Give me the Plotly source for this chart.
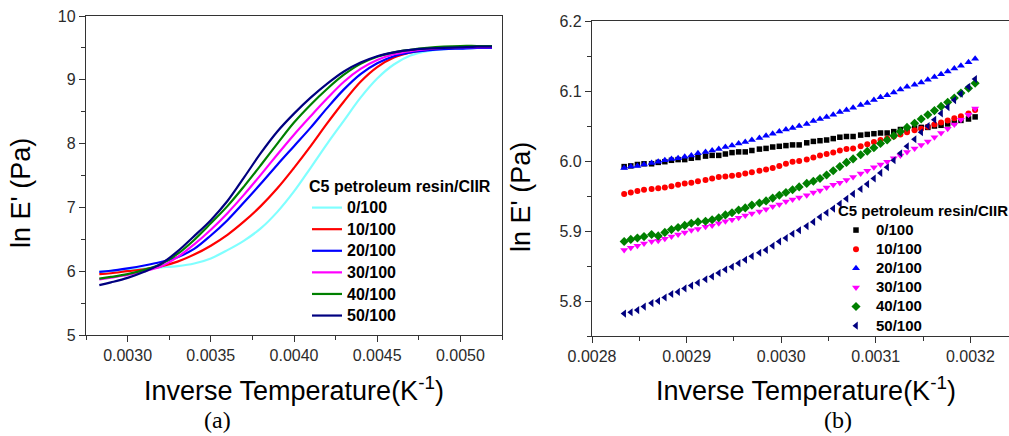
import plotly.graph_objects as go

# ---------------- Panel (a): full temperature range (lines) ----------------
inv_temp_a = [0.00283, 0.0029, 0.0030, 0.0031, 0.0032, 0.0033, 0.0034, 0.0035,
              0.0036, 0.0037, 0.0038, 0.0039, 0.0040, 0.0041, 0.0042, 0.0043,
              0.0044, 0.0045, 0.0046, 0.0047, 0.0048, 0.0049, 0.0050, 0.0051, 0.00519]
lnE_a_0 = [5.99, 6.005, 6.02, 6.04, 6.06, 6.08, 6.12, 6.20, 6.33, 6.48, 6.67, 6.93, 7.25,
           7.62, 8.00, 8.36, 8.72, 9.02, 9.24, 9.38, 9.45, 9.48, 9.49, 9.50, 9.50]
lnE_a_10 = [5.953, 5.968, 6.00, 6.03, 6.075, 6.15, 6.26, 6.40, 6.57, 6.78, 7.02, 7.30, 7.62,
            7.96, 8.32, 8.66, 8.97, 9.20, 9.35, 9.43, 9.47, 9.49, 9.50, 9.50, 9.50]
lnE_a_20 = [5.99, 6.007, 6.045, 6.09, 6.145, 6.22, 6.35, 6.56, 6.80, 7.08, 7.37, 7.67, 7.96,
            8.25, 8.56, 8.85, 9.09, 9.26, 9.37, 9.43, 9.46, 9.48, 9.49, 9.50, 9.50]
lnE_a_30 = [5.873, 5.90, 5.94, 6.00, 6.075, 6.22, 6.42, 6.65, 6.91, 7.20, 7.51, 7.83, 8.14,
            8.43, 8.71, 8.97, 9.17, 9.31, 9.40, 9.45, 9.48, 9.50, 9.51, 9.51, 9.51]
lnE_a_40 = [5.885, 5.91, 5.953, 6.02, 6.11, 6.27, 6.49, 6.75, 7.02, 7.33, 7.66, 8.00, 8.33,
            8.61, 8.86, 9.08, 9.25, 9.36, 9.43, 9.47, 9.50, 9.52, 9.53, 9.53, 9.53]
lnE_a_50 = [5.782, 5.825, 5.895, 5.99, 6.115, 6.31, 6.55, 6.80, 7.10, 7.47, 7.85, 8.19, 8.47,
            8.72, 8.94, 9.13, 9.27, 9.37, 9.43, 9.47, 9.49, 9.50, 9.51, 9.52, 9.52]

# ---------------- Panel (b): zoom on 0.00283-0.00321 (markers) ----------------
inv_temp_b = [0.002834, 0.002841, 0.002848, 0.002855, 0.002863, 0.002870, 0.002877, 0.002884,
              0.002891, 0.002898, 0.002905, 0.002912, 0.002920, 0.002927, 0.002934, 0.002941,
              0.002948, 0.002955, 0.002962, 0.002969, 0.002977, 0.002984, 0.002991, 0.002998,
              0.003005, 0.003012, 0.003019, 0.003027, 0.003034, 0.003041, 0.003048, 0.003055,
              0.003062, 0.003069, 0.003076, 0.003084, 0.003091, 0.003098, 0.003105, 0.003112,
              0.003119, 0.003126, 0.003133, 0.003141, 0.003148, 0.003155, 0.003162, 0.003169,
              0.003176, 0.003183, 0.003190, 0.003198, 0.003205]
lnE_b_0 = [5.992, 5.993, 5.995, 5.996, 5.996, 5.998, 5.999, 6.001, 6.002, 6.002, 6.004, 6.005,
           6.007, 6.008, 6.008, 6.010, 6.012, 6.013, 6.013, 6.015, 6.017, 6.018, 6.020, 6.021,
           6.022, 6.023, 6.023, 6.026, 6.028, 6.029, 6.030, 6.032, 6.034, 6.035, 6.035, 6.037,
           6.038, 6.039, 6.040, 6.040, 6.042, 6.045, 6.046, 6.047, 6.048, 6.048, 6.050, 6.051,
           6.053, 6.055, 6.058, 6.060, 6.063]
lnE_b_10 = [5.953, 5.955, 5.957, 5.959, 5.960, 5.961, 5.962, 5.964, 5.966, 5.968, 5.969, 5.971,
            5.973, 5.975, 5.977, 5.978, 5.979, 5.980, 5.982, 5.984, 5.986, 5.988, 5.990, 5.993,
            5.996, 5.999, 6.000, 6.002, 6.005, 6.008, 6.010, 6.012, 6.015, 6.017, 6.018, 6.021,
            6.024, 6.027, 6.030, 6.032, 6.035, 6.038, 6.041, 6.044, 6.046, 6.049, 6.052, 6.055,
            6.058, 6.061, 6.064, 6.068, 6.073]
lnE_b_20 = [5.990, 5.992, 5.993, 5.995, 5.997, 5.999, 6.001, 6.003, 6.004, 6.006, 6.008, 6.011,
            6.013, 6.015, 6.017, 6.020, 6.022, 6.025, 6.027, 6.030, 6.033, 6.036, 6.039, 6.042,
            6.045, 6.047, 6.050, 6.053, 6.057, 6.060, 6.063, 6.066, 6.070, 6.073, 6.076, 6.080,
            6.083, 6.087, 6.091, 6.094, 6.098, 6.102, 6.106, 6.109, 6.112, 6.116, 6.120, 6.124,
            6.128, 6.132, 6.136, 6.141, 6.146]
lnE_b_30 = [5.873, 5.876, 5.879, 5.882, 5.885, 5.886, 5.889, 5.892, 5.895, 5.898, 5.901, 5.903,
            5.906, 5.908, 5.911, 5.914, 5.916, 5.919, 5.922, 5.925, 5.928, 5.931, 5.935, 5.938,
            5.942, 5.945, 5.948, 5.951, 5.955, 5.958, 5.962, 5.966, 5.969, 5.973, 5.977, 5.982,
            5.986, 5.991, 5.995, 5.999, 6.004, 6.008, 6.013, 6.018, 6.023, 6.028, 6.034, 6.040,
            6.046, 6.052, 6.059, 6.066, 6.075]
lnE_b_40 = [5.885, 5.888, 5.890, 5.892, 5.895, 5.893, 5.898, 5.902, 5.905, 5.908, 5.911, 5.913,
            5.914, 5.916, 5.919, 5.923, 5.926, 5.930, 5.933, 5.937, 5.940, 5.943, 5.947, 5.951,
            5.955, 5.959, 5.963, 5.968, 5.971, 5.975, 5.980, 5.986, 5.992, 5.998, 6.003, 6.009,
            6.014, 6.019, 6.025, 6.030, 6.036, 6.042, 6.048, 6.054, 6.060, 6.066, 6.072, 6.078,
            6.084, 6.090, 6.097, 6.104, 6.111]
lnE_b_50 = [5.782, 5.784, 5.787, 5.792, 5.797, 5.800, 5.805, 5.810, 5.813, 5.818, 5.822, 5.826,
            5.831, 5.835, 5.840, 5.845, 5.849, 5.854, 5.859, 5.864, 5.869, 5.873, 5.879, 5.885,
            5.890, 5.896, 5.901, 5.907, 5.913, 5.920, 5.926, 5.932, 5.939, 5.946, 5.953, 5.960,
            5.967, 5.975, 5.983, 5.991, 6.001, 6.011, 6.021, 6.031, 6.041, 6.050, 6.059, 6.068,
            6.077, 6.087, 6.096, 6.106, 6.117]

labels = ["0/100", "10/100", "20/100", "30/100", "40/100", "50/100"]
line_colors = ["#80ffff", "#ff0000", "#0000ff", "#ff00ff", "#008000", "#000080"]
marker_colors = ["#000000", "#ff0000", "#0000ff", "#ff00ff", "#008000", "#000080"]
marker_symbols = ["square", "circle", "triangle-up", "triangle-down", "diamond", "triangle-left"]
marker_sizes = [5.5, 6, 7, 7, 7, 7]

series_a = [lnE_a_0, lnE_a_10, lnE_a_20, lnE_a_30, lnE_a_40, lnE_a_50]
series_b = [lnE_b_0, lnE_b_10, lnE_b_20, lnE_b_30, lnE_b_40, lnE_b_50]

FONT = "Liberation Sans"
W, H = 1009, 436

fig = go.Figure()

for name, col, ys in zip(labels, line_colors, series_a):
    fig.add_trace(go.Scatter(
        x=inv_temp_a, y=ys, mode="lines", xaxis="x", yaxis="y",
        line=dict(color=col, width=2.2, shape="spline", smoothing=1.0),
        name='<b><span style="font-size:16px">' + name + '</span></b>',
        legend="legend"))

for name, col, sym, sz, ys in zip(labels, marker_colors, marker_symbols, marker_sizes, series_b):
    fig.add_trace(go.Scatter(
        x=inv_temp_b, y=ys, mode="markers", xaxis="x2", yaxis="y2",
        marker=dict(color=col, symbol=sym, size=sz, line=dict(width=0)),
        name='<b><span style="font-size:15px">' + name + '</span></b>',
        legend="legend2"))

axis_common = dict(
    showgrid=False, zeroline=False, showline=True, linecolor="#333333", linewidth=1.3,
    ticks="outside", ticklen=6, tickwidth=1.2, tickcolor="#333333",
    tickfont=dict(family=FONT, size=16, color="#2b2b2b"),
)

def px_x(p):
    return p / W

def px_y(p):
    return 1 - p / H

fig.update_layout(
    width=W, height=H,
    margin=dict(l=0, r=0, t=0, b=0, autoexpand=False),
    paper_bgcolor="white", plot_bgcolor="white",
    font=dict(family=FONT, color="black"),
    xaxis=dict(axis_common, domain=[px_x(86), px_x(502)], range=[0.00275, 0.00525],
               dtick=0.0005, tick0=0.0030, tickformat=".4f", mirror=True, anchor="y",
               minor=dict(dtick=0.00025, tick0=0.00275, ticks="outside", ticklen=4,
                          tickcolor="#333333", tickwidth=1)),
    yaxis=dict(axis_common, domain=[px_y(335), px_y(16)], range=[5, 10],
               dtick=1, tickformat="d", mirror=True, anchor="x",
               minor=dict(dtick=0.5, ticks="outside", ticklen=4,
                          tickcolor="#333333", tickwidth=1)),
    xaxis2=dict(axis_common, domain=[px_x(592), 1.0], range=[0.0028, 0.0028 + (W - 592) / 946000],
                dtick=0.0001, tick0=0.0028, tickformat=".4f", mirror=True, anchor="y2",
                minor=dict(dtick=0.00005, tick0=0.0028, ticks="outside", ticklen=4,
                           tickcolor="#333333", tickwidth=1)),
    yaxis2=dict(axis_common, domain=[px_y(336), px_y(21)], range=[5.75, 6.2],
                dtick=0.1, tick0=5.8, tickformat=".1f", mirror=False, anchor="x2",
                minor=dict(dtick=0.05, ticks="outside", ticklen=4,
                           tickcolor="#333333", tickwidth=1)),
    legend=dict(x=px_x(307), y=px_y(171), xanchor="left", yanchor="top",
                bgcolor="rgba(0,0,0,0)", borderwidth=0, tracegroupgap=0,
                font=dict(family=FONT, size=14.3, color="black"),
                title=dict(text="<b>C5 petroleum resin/CIIR</b>",
                           font=dict(family=FONT, size=16, color="black"))),
    legend2=dict(x=px_x(836), y=px_y(196), xanchor="left", yanchor="top",
                 bgcolor="rgba(0,0,0,0)", borderwidth=0, tracegroupgap=0,
                 font=dict(family=FONT, size=12.4, color="black"),
                 title=dict(text="<b>C5 petroleum resin/CIIR</b>",
                            font=dict(family=FONT, size=15, color="black"))),
    showlegend=True,
)

annotations = [
    dict(text="Inverse Temperature(K<sup>-1</sup>)", x=px_x(294), y=px_y(389),
         font=dict(family=FONT, size=27, color="black")),
    dict(text="Inverse Temperature(K<sup>-1</sup>)", x=px_x(806), y=px_y(389),
         font=dict(family=FONT, size=27, color="black")),
    dict(text="ln E' (Pa)", x=px_x(21), y=px_y(193), textangle=-90,
         font=dict(family=FONT, size=27, color="black")),
    dict(text="ln E' (Pa)", x=px_x(521), y=px_y(197), textangle=-90,
         font=dict(family=FONT, size=27, color="black")),
    dict(text="(a)", x=px_x(217), y=px_y(420),
         font=dict(family="Liberation Serif", size=24, color="black")),
    dict(text="(b)", x=px_x(838), y=px_y(420),
         font=dict(family="Liberation Serif", size=24, color="black")),
]
for a in annotations:
    fig.add_annotation(xref="paper", yref="paper", showarrow=False,
                       xanchor="center", yanchor="middle", **a)

fig.write_html("out.html", config={"displayModeBar": False},
               post_script="document.body.style.margin='0';")
